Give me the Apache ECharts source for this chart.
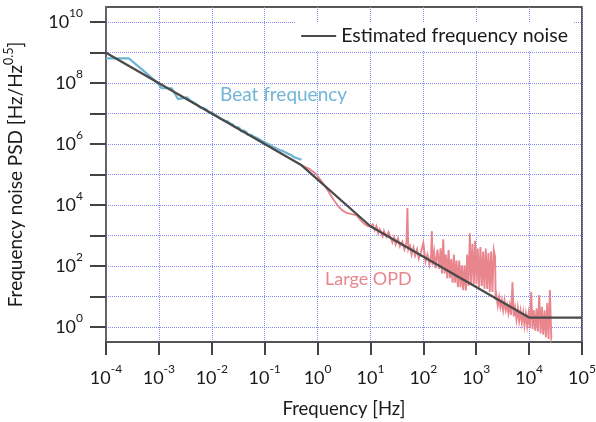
<!DOCTYPE html>
<html>
<head>
<meta charset="utf-8">
<title>Frequency noise PSD</title>
<script src="https://cdn.jsdelivr.net/npm/echarts@6/dist/echarts.min.js"></script>
<style>
  html, body { margin: 0; padding: 0; background: #fff; }
  #chart { width: 596px; height: 422px; }
</style>
</head>
<body>
<div id="chart"></div>
<script>
// axis decades
const xDecades = [1e-4, 1e-3, 1e-2, 1e-1, 1, 10, 100, 1e3, 1e4, 1e5];
const yDecades = [1, 10, 100, 1e3, 1e4, 1e5, 1e6, 1e7, 1e8, 1e9, 1e10];
const yLabelled = [1, 100, 1e4, 1e6, 1e8, 1e10];

// beat frequency measurement
const beatFreq = [1e-4, 2.7e-4, 5.5e-4, 9.8e-4, 1.12e-3, 1.74e-3, 2.3e-3, 3.4e-3, 4e-3, 5e-3,
  6e-3, 7e-3, 8e-3, 9e-3, 0.01, 0.011, 0.012, 0.013, 0.014, 0.015, 0.016, 0.018, 0.02, 0.022,
  0.025, 0.027, 0.028, 0.03, 0.033, 0.036, 0.037, 0.04, 0.045, 0.048, 0.05, 0.056, 0.06, 0.063,
  0.067, 0.07, 0.075, 0.08, 0.085, 0.09, 0.095, 0.1, 0.105, 0.11, 0.12, 0.125, 0.13, 0.14, 0.15,
  0.16, 0.17, 0.18, 0.19, 0.2, 0.22, 0.23, 0.25, 0.26, 0.28, 0.3, 0.32, 0.35, 0.38, 0.4, 0.43,
  0.45, 0.48, 0.5];
const beatPsd = [6.5e8, 6.5e8, 2.3e8, 9.5e7, 6.8e7, 6.8e7, 3.0e7, 3.4e7, 2.6e7, 2.1e7,
  1.6e7, 1.5e7, 1.35e7, 1.05e7, 1.1e7, 9.5e6, 9.2e6, 8.0e6, 8.0e6, 6.6e6, 6.8e6, 5.8e6, 5.6e6, 4.8e6,
  4.4e6, 3.6e6, 3.9e6, 3.6e6, 3.4e6, 2.6e6, 3.0e6, 2.8e6, 2.5e6, 2.0e6, 2.3e6, 2.0e6, 1.85e6, 1.75e6,
  1.75e6, 1.6e6, 1.6e6, 1.42e6, 1.4e6, 1.25e6, 1.28e6, 1.15e6, 1.15e6, 1.05e6, 1.02e6, 9.5e5, 9.4e5, 8.4e5, 8.2e5,
  7.4e5, 7.4e5, 6.8e5, 6.8e5, 6.2e5, 5.9e5, 5.4e5, 5.3e5, 4.9e5, 4.8e5, 4.3e5, 4.3e5, 3.8e5, 3.8e5, 3.5e5, 3.45e5,
  3.2e5, 3.3e5, 3.1e5];

// large OPD measurement
const opdFreq = [0.5, 0.71, 0.95, 1.26, 1.58, 2.0, 2.45, 2.95, 3.55, 4.47, 5.5, 6.76, 7.94, 9.1,
  10, 11, 12, 13, 14, 15, 17, 18, 20, 22, 24, 26, 28, 30, 33, 36, 40, 44, 48, 50, 52, 56, 60, 65,
  70, 76, 82, 90, 100, 110, 120, 130, 140, 145, 150, 160, 170, 185,
  200, 212, 225, 238, 252, 267, 283, 300, 318, 337, 357, 378, 400, 424, 450, 477, 505, 535, 567,
  601, 637, 675, 715, 758, 800, 850, 900, 955, 1010, 1070, 1135, 1200, 1275, 1350, 1430, 1515,
  1605, 1700, 1800, 1910, 2025, 2145, 2275, 2330, 2410, 2555, 2710, 2870, 3040, 3225, 3420, 3620,
  3840, 4070, 4310, 4570, 4845, 5135, 5440, 5770, 6115, 6480, 6870, 7280, 7720, 8180, 8670, 9190,
  9740, 10330, 10950, 11600, 12300, 13040, 13820, 14650, 15530, 16460, 17450, 18500, 19600, 20780,
  22030, 23350, 24750, 26240, 26600];
const opdPsd = [2.0e5, 1.51e5, 1.0e5, 5.25e4, 2.88e4, 1.51e4, 9.1e3, 6.6e3, 5.5e3, 5.0e3, 4.57e3, 2.95e3, 2.29e3, 2.0e3,
  2000, 2290, 1480, 2030, 1190, 1600, 930, 1400, 890, 1280, 1480, 585, 860, 505, 800, 440, 630, 345, 590, 8000, 340, 450, 236, 405,
  217, 347, 173, 280, 564, 138, 235, 109, 226, 1380, 105, 280, 84, 342,
  79, 375, 56, 750, 56, 237, 39.6, 333, 39.6, 167, 28, 236, 28, 149, 20, 149, 19.8, 105, 15.9,
  105, 15.7, 234, 22, 1180, 25, 527, 24.9, 661, 25, 374, 19.7, 417, 22, 296, 17.6, 372,
  17.6, 264, 14, 296, 14, 330, 197, 7.6, 10.5, 4.9, 9.3, 4.4, 7.4, 3.5, 7.4, 3.5,
  5.2, 2.75, 5.2, 2.45, 29, 2.2, 4.1, 1.73, 4.1, 1.54, 3.26, 1.37, 2.9, 1.1, 2.6, 1.09,
  2.6, 0.9, 14, 0.85, 3.5, 0.75, 4, 0.7, 11, 0.6, 4.5, 0.55, 3.5, 0.45,
  6, 0.4, 16, 0.45, 0.5];

// estimated frequency noise
const estFreq = [1e-4, 0.5, 10, 1e4, 1e5];
const estPsd = [1e9, 2e5, 2e3, 2, 2];

const FONT = 'Lato';
const pairs = (xs, ys) => xs.map((x, i) => [x, ys[i]]);
const powLabel = v => '{b|10}{s|' + Math.round(Math.log10(v)) + '}';
const rich = {
  b: { fontSize: 18, fontFamily: FONT, color: '#1a1a1a', lineHeight: 30 },
  s: { fontSize: 12, fontFamily: FONT, color: '#1a1a1a', lineHeight: 14, verticalAlign: 'top' }
};
const gridLine = { show: true, lineStyle: { color: '#8a8aff', type: 'dotted', width: 1 } };

const chart = echarts.init(document.getElementById('chart'));
chart.setOption({
  animation: false,
  backgroundColor: '#fff',
  grid: {
    left: 106, right: 14, top: 7, bottom: 80,
    show: true, borderColor: '#222', borderWidth: 1.5,
    outerBoundsMode: 'none'
  },
  legend: {
    data: [{ name: 'Estimated frequency noise', icon: 'rect' }],
    right: 22, top: 22,
    backgroundColor: '#fff',
    padding: [4, 6],
    itemWidth: 35, itemHeight: 2, itemGap: 8,
    textStyle: { fontFamily: FONT, fontSize: 19.5, color: '#1a1a1a' }
  },
  xAxis: {
    type: 'log', logBase: 10, min: 1e-4, max: 1e5,
    name: 'Frequency [Hz]', nameLocation: 'middle', nameGap: 58,
    nameTextStyle: { fontFamily: FONT, fontSize: 18.5, color: '#1a1a1a' },
    axisLine: { show: true, lineStyle: { color: '#555', width: 2 } },
    axisTick: { show: true, length: 13, customValues: xDecades, lineStyle: { color: '#444', width: 2 } },
    axisLabel: { customValues: xDecades, formatter: powLabel, margin: 21, rich: rich },
    splitLine: gridLine
  },
  yAxis: {
    type: 'log', logBase: 10, min: 0.3162, max: 3.162e10,
    name: '{n|Frequency noise PSD [Hz/Hz}{s|0.5}{n|]}', nameLocation: 'middle', nameGap: 76,
    nameTextStyle: {
      rich: {
        n: { fontFamily: FONT, fontSize: 19, color: '#1a1a1a', lineHeight: 28 },
        s: { fontFamily: FONT, fontSize: 12.5, color: '#1a1a1a', lineHeight: 14, verticalAlign: 'top' }
      }
    },
    axisLine: { show: true, lineStyle: { color: '#666', width: 2 } },
    axisTick: { show: true, length: 16, customValues: yDecades, lineStyle: { color: '#444', width: 2 } },
    axisLabel: { customValues: yLabelled, formatter: powLabel, margin: 23, rich: rich },
    splitLine: gridLine
  },
  graphic: [
    { type: 'text', left: 220, top: 85, z: 10,
      style: { text: 'Beat frequency', fill: '#72b5d6', font: '19px ' + FONT } },
    { type: 'text', left: 325, top: 270, z: 10,
      style: { text: 'Large OPD', fill: '#e8868e', font: '18px ' + FONT } }
  ],
  series: [
    {
      name: 'Beat frequency', type: 'line', symbol: 'none', z: 2,
      color: '#6fb4d5',
      data: pairs(beatFreq, beatPsd),
      lineStyle: { color: '#6fb4d5', width: 2.2 }
    },
    {
      name: 'Large OPD', type: 'line', symbol: 'none', z: 2,
      color: '#e9858d',
      data: pairs(opdFreq, opdPsd),
      lineStyle: { color: '#e9858d', width: 1.9, join: 'miter' }
    },
    {
      name: 'Estimated frequency noise', type: 'line', symbol: 'none', z: 3,
      color: '#4a4a4a',
      data: pairs(estFreq, estPsd),
      lineStyle: { color: '#4a4a4a', width: 2.3 }
    }
  ]
});
</script>
</body>
</html>
